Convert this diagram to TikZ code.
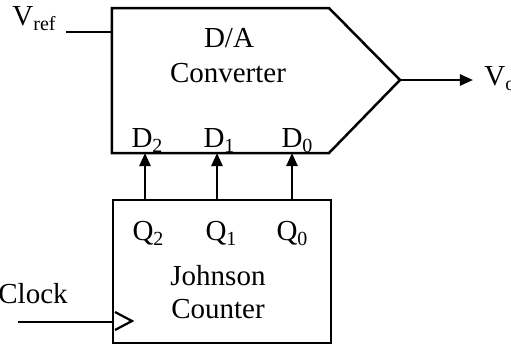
\documentclass[tikz,border=0pt]{standalone}
\usepackage{fontspec}
\setmainfont{Liberation Serif}
\usetikzlibrary{arrows.meta}
\newcommand\mysub[1]{\raisebox{-0.45ex}{\fontsize{10}{10}\selectfont #1}}
\begin{document}
\begin{tikzpicture}[x=0.5pt,y=-0.5pt,
  wire/.style={line width=1.25pt},
  sig/.style={line width=1.25pt,-{Triangle[length=6.5pt,width=5.5pt]}},
  lbl/.style={inner sep=0pt,anchor=base,font=\fontsize{14.5}{16}\selectfont},
  lblw/.style={inner sep=0pt,anchor=base west,font=\fontsize{14.5}{16}\selectfont}]
\useasboundingbox (0,0) rectangle (511,345);
% D/A converter outline
\coordinate (dtl) at (112,8);
\coordinate (dtr) at (329,8);
\coordinate (dout) at (400,80);
\coordinate (dbr) at (329,153);
\coordinate (dbl) at (112,153);
\draw[wire,line join=miter] (dtl) -- (dtr) -- (dout) -- (dbr) -- (dbl) -- cycle;
% Johnson counter box
\coordinate (ctl) at (113,200);
\coordinate (cbr) at (331,343);
\draw[wire] (ctl) rectangle (cbr);
% texts
\node[lbl] (da) at (229,47) {D/A};
\node[lbl] (conv) at (228,82) {Converter};
\node[lbl] (d2) at (147,147) {D\mysub{2}};
\node[lbl] (d1) at (219,147) {D\mysub{1}};
\node[lbl] (d0) at (297,147) {D\mysub{0}};
\node[lbl] (q2) at (148,240) {Q\mysub{2}};
\node[lbl] (q1) at (221,240) {Q\mysub{1}};
\node[lbl] (q0) at (292,240) {Q\mysub{0}};
\node[lbl] (john) at (218,285) {Johnson};
\node[lbl] (count) at (218,318) {Counter};
\node[lblw] (vref) at (12,25) {V\mysub{ref}};
\node[lblw] (clk) at (-2,303) {Clock};
\node[lblw] (vo) at (484,85) {V\mysub{o}};
% Vref input
\coordinate (vrefa) at (66,32);
\coordinate (vrefb) at (112,32);
\draw[wire] (vrefa) -- (vrefb);
% clock input
\coordinate (clka) at (18,322);
\coordinate (clkb) at (113,322);
\draw[wire] (clka) -- (clkb);
\coordinate (ck1) at (115,312);
\coordinate (ck2) at (132,321);
\coordinate (ck3) at (115,330);
\draw[line width=1.1pt] (ck1) -- (ck2) -- (ck3);
% output
\coordinate (voend) at (473,80);
\draw[sig] (dout) -- (voend);
% bit arrows
\foreach \x/\n in {145/2,217/1,292/0}{
  \coordinate (qa\n) at (\x,200);
  \coordinate (da\n) at (\x,153);
  \draw[sig] (qa\n) -- (da\n);
}
\end{tikzpicture}
\end{document}
